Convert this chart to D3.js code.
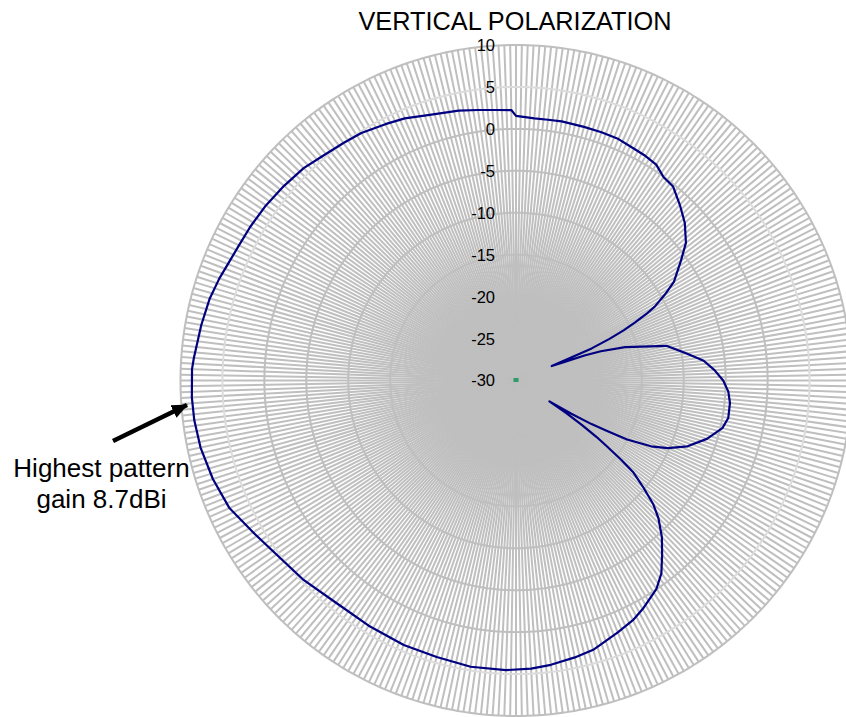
<!DOCTYPE html>
<html>
<head>
<meta charset="utf-8">
<script src="https://cdn.jsdelivr.net/npm/d3@7"></script>
<style>
  body { margin: 0; background: #fff; }
  svg { display: block; }
  text { font-family: "Liberation Sans", Arial, sans-serif; }
</style>
</head>
<body>
<div id="chart"></div>
<script>
// categories: one spoke per degree
const categories = d3.range(0, 360);

// tick values on the radial axis (dB)
const tickValues = [10, 5, 0, -5, -10, -15, -20, -25, -30];

// measured pattern, angle in degrees (clockwise from top) and gain in dBi
const angleDeg = [0, 4, 7, 10, 15, 19, 23, 27, 30, 33, 36, 39, 43, 47, 51, 54, 58, 60, 62, 63, 64, 65, 66, 67, 68,
  69, 70, 71, 73, 77, 81, 84, 87, 90, 93, 96, 100, 103, 107, 111, 114, 116, 118, 119, 120, 121, 122,
  123, 124, 125, 126, 127, 128, 130, 132, 134, 137, 140, 143, 146, 151, 154, 158, 164, 168, 173, 177,
  182, 189, 196, 203, 211, 219, 227, 234, 240, 246, 252, 258, 263, 267, 272, 274, 280, 285, 289, 292,
  296, 300, 305, 310, 315, 319, 324, 328, 333, 337, 342, 348, 352, 356, 359];
const gainDb = [1.55, 1.33, 1.32, 1.37, 1.31, 1.31, 1.27, 1.01, 0.9, 0.69, -0.05, -0.24, -1.36, -2.48, -3.93, -5.69, -7.8, -9.5, -11.3, -12.6, -14.2, -15.8, -17.8, -20.2, -25.4,
  -23.8, -21.2, -19.3, -16.4, -11.6, -9.4, -7.5, -6.3, -5.3, -4.65, -4.35, -4.3, -4.75, -6.2, -8.1, -10.2, -12.1, -15.0, -17.5, -19.6, -22.3, -25.3,
  -22.8, -20.5, -18.3, -16.5, -14.3, -12.3, -10.2, -8.0, -6.4, -4.5, -2.9, -1.2, -0.05, 1.15, 1.8, 2.4, 3.4, 3.75, 4.15, 4.4,
  4.55, 4.55, 4.3, 4.25, 4.1, 4.1, 4.75, 5.3, 6.2, 7.4, 8.0, 8.45, 8.65, 8.7, 8.65, 8.5, 8.1, 7.8, 7.4, 7.05,
  6.75, 6.6, 6.4, 6.1, 5.8, 5.35, 5.0, 4.8, 4.3, 3.95, 3.3, 2.9, 2.57, 2.33, 2.25];

// second series: a single point sitting on the centre
const markerValue = [-30];

var svgWidth = 846;
var svgHeight = 717;
var cx = 516, cy = 380.5;
var outerR = 335.5;

var svg = d3.select("#chart")
  .append("svg")
  .attr("width", svgWidth)
  .attr("height", svgHeight);

var chartGroup = svg.append("g")
  .attr("transform", `translate(${cx}, ${cy})`);

var rScale = d3.scaleLinear()
  .domain([-30, 10])
  .range([0, outerR]);

var aScale = d3.scaleLinear()
  .domain([0, 360])
  .range([0, 2 * Math.PI]);

// spokes
chartGroup.append("g")
  .selectAll("line")
  .data(categories)
  .join("line")
  .attr("x1", 0)
  .attr("y1", 0)
  .attr("x2", d => rScale(10) * Math.sin(aScale(d)))
  .attr("y2", d => -rScale(10) * Math.cos(aScale(d)))
  .attr("stroke", "#bfbfbf")
  .attr("stroke-width", 2);

// rings (polygons through every spoke)
var ringLine = d3.lineRadial()
  .angle(d => aScale(d))
  .curve(d3.curveLinearClosed);

chartGroup.append("g")
  .selectAll("path")
  .data(tickValues.filter(t => t > -30))
  .join("path")
  .attr("d", t => ringLine.radius(rScale(t))(categories))
  .attr("fill", "none")
  .attr("stroke", t => t === 5 ? "#dcdcdc" : "#bfbfbf")
  .attr("stroke-width", 2);

// tick labels
chartGroup.append("g")
  .selectAll("text")
  .data(tickValues)
  .join("text")
  .attr("x", -21)
  .attr("y", d => -rScale(d))
  .attr("dy", "0.36em")
  .attr("text-anchor", "end")
  .attr("font-size", "16.5px")
  .attr("fill", "#000")
  .text(d => d);

// pattern line
var points = angleDeg.map((a, i) => ({ angle: a, gain: gainDb[i] }));
var drawLine = d3.lineRadial()
  .angle(d => aScale(d.angle))
  .radius(d => rScale(d.gain))
  .curve(d3.curveLinearClosed);

chartGroup.append("path")
  .attr("d", drawLine(points))
  .attr("fill", "none")
  .attr("stroke", "#000080")
  .attr("stroke-width", 2.2)
  .attr("stroke-linejoin", "round");

// centre marker
chartGroup.selectAll("rect.mk")
  .data(markerValue)
  .join("rect")
  .attr("class", "mk")
  .attr("x", d => rScale(d) - 2.5)
  .attr("y", d => -rScale(d) - 2.5)
  .attr("width", 5)
  .attr("height", 4)
  .attr("fill", "#2e9a6a");

// title
svg.append("text")
  .attr("x", 515)
  .attr("y", 30)
  .attr("text-anchor", "middle")
  .attr("font-size", "25.3px")
  .attr("fill", "#000")
  .text("VERTICAL POLARIZATION");

// annotation
svg.append("defs").append("marker")
  .attr("id", "arrow")
  .attr("markerUnits", "userSpaceOnUse")
  .attr("viewBox", "0 0 16 14")
  .attr("refX", 15)
  .attr("refY", 7)
  .attr("markerWidth", 16)
  .attr("markerHeight", 14)
  .attr("orient", "auto")
  .append("path")
  .attr("d", "M0,0 L16,7 L0,14 Z")
  .attr("fill", "#000");

svg.append("line")
  .attr("x1", 113)
  .attr("y1", 441)
  .attr("x2", 187)
  .attr("y2", 405)
  .attr("stroke", "#000")
  .attr("stroke-width", 4.5)
  .attr("marker-end", "url(#arrow)");

var note = svg.append("text")
  .attr("text-anchor", "middle")
  .attr("font-size", "26px")
  .attr("fill", "#000");
note.append("tspan").attr("x", 101.5).attr("y", 476.5).text("Highest pattern");
note.append("tspan").attr("x", 101.5).attr("y", 508).text("gain 8.7dBi");
</script>
</body>
</html>
